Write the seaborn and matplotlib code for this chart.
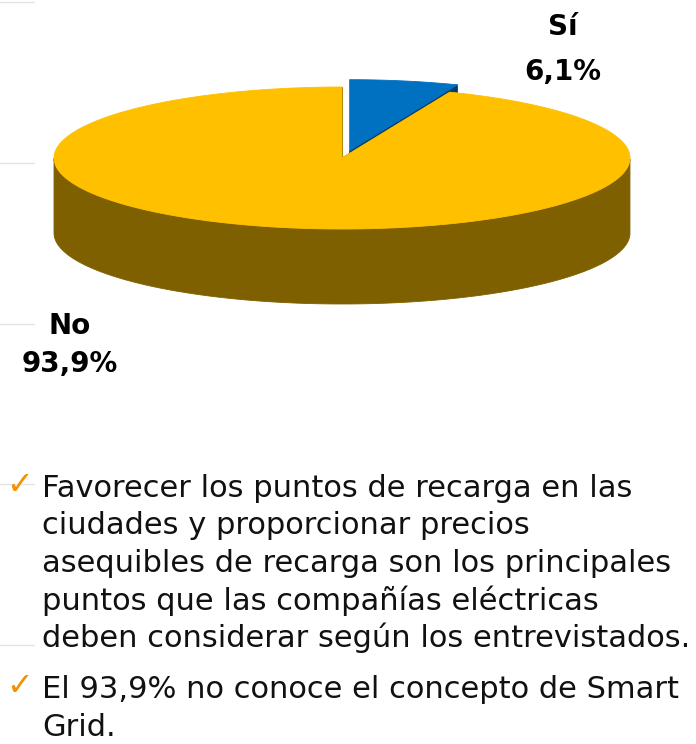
import numpy as np
import matplotlib
matplotlib.use("Agg")
import matplotlib.pyplot as plt
import seaborn as sns
from matplotlib.patches import Polygon

# data
labels = ["Sí", "No"]
shares = [6.1, 93.9]
pct_labels = ["6,1%", "93,9%"]
top_colors = ["#0070C0", "#FFC000"]
side_colors = ["#003B69", "#7F6000"]
explode = [0.14, 0.0]

bullets = [
    ["Favorecer los puntos de recarga en las",
     "ciudades y proporcionar precios",
     "asequibles de recarga son los principales",
     "puntos que las compañías eléctricas",
     "deben considerar según los entrevistados."],
    ["El 93,9% no conoce el concepto de Smart",
     "Grid."],
]

sns.set_theme(style="white")
plt.rcParams['font.family'] = ['DejaVu Sans']

fig = plt.figure(figsize=(6.96, 7.44), dpi=100)
ax = fig.add_axes([0, 0, 1, 1])
ax.set_xlim(0, 696)
ax.set_ylim(744, 0)
ax.axis("off")

# pie geometry (pixel space, y grows downwards)
cx, cy, rx, ry, depth = 342, 158, 288, 71, 75


def rim(t, dx=0.0, dy=0.0, down=0.0):
    r = np.radians(t)
    return np.column_stack([cx + dx + rx * np.cos(r), cy + dy - ry * np.sin(r) + down])


# slice angle ranges, clockwise from 12 o'clock
total = sum(shares)
bounds = []
start = 90.0
for s in shares:
    end = start - 360.0 * s / total
    bounds.append((start, end))
    start = end

layers = {"face": [], "wall": [], "top": []}
for i, (a0, a1) in enumerate(bounds):
    mid = np.radians((a0 + a1) / 2)
    dx = explode[i] * rx * np.cos(mid)
    dy = -explode[i] * ry * np.sin(mid) * 0.75
    apex = np.array([[cx + dx, cy + dy]])
    t = np.linspace(a0, a1, 300)

    # radial cut faces
    for a in (a0, a1):
        p = rim(np.array([a]), dx, dy)
        face = np.vstack([apex, p, p + [0, depth], apex + [0, depth]])
        layers["face"].append((i, face))

    # outer wall, front half only
    front = t[np.sin(np.radians(t)) <= 0]
    if front.size:
        wall = np.vstack([rim(front, dx, dy), rim(front[::-1], dx, dy, depth)])
        layers["wall"].append((i, wall))

    layers["top"].append((i, np.vstack([apex, rim(t, dx, dy)])))

# back slice (Sí) first, then the big one
order = [0, 1]
z = 1
for key in ("face", "wall", "top"):
    for idx in order:
        for i, pts in layers[key]:
            if i != idx:
                continue
            col = top_colors[i] if key == "top" else side_colors[i]
            ax.add_patch(Polygon(pts, closed=True, facecolor=col,
                                 edgecolor=col, lw=0.6, zorder=z))
            z += 1

# slice labels
label_pos = [(563, 27, 72), (70, 326, 364)]
for i in range(len(labels)):
    x, y1, y2 = label_pos[i]
    ax.text(x, y1, labels[i], ha="center", va="center", fontsize=20,
            fontweight="bold", color="black", zorder=20)
    ax.text(x, y2, pct_labels[i], ha="center", va="center", fontsize=20,
            fontweight="bold", color="black", zorder=20)

# faint slide guide lines on the left edge
for gy in [2, 163, 324, 484, 645]:
    ax.plot([0, 34], [gy, gy], color="#E4E4E4", lw=1, zorder=0)

# bullet text
y = 497
for para in bullets:
    ax.text(6, y - 3, "✓", color="#F39200", fontsize=23, va="baseline", ha="left")
    for line in para:
        ax.text(42, y, line, fontsize=22, va="baseline", ha="left",
                color="#111111")
        y += 37.5
    y += 14

fig.savefig("out.png", dpi=100)
